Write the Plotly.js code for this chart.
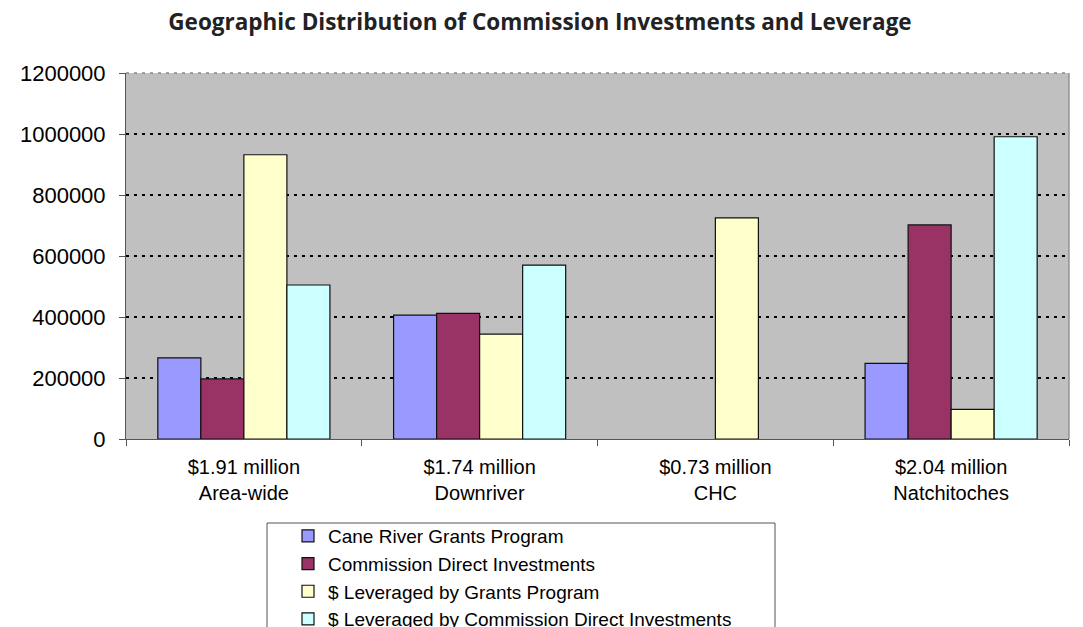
<!DOCTYPE html>
<html>
<head>
<meta charset="utf-8">
<script src="https://cdn.plot.ly/plotly-3.0.1.min.js"></script>
<style>html,body{margin:0;padding:0;background:#fff;}#chart{width:1083px;height:627px;}</style>
</head>
<body>
<div id="chart"></div>
<script>
var categories = ["$1.91 million<br>Area-wide", "$1.74 million<br>Downriver", "$0.73 million<br>CHC", "$2.04 million<br>Natchitoches"];
var seriesNames = ["Cane River Grants Program", "Commission Direct Investments", "$ Leveraged by Grants Program", "$ Leveraged by Commission Direct Investments"];
var grantsProgram = [266000, 406000, null, 248000];
var directInvestments = [197000, 412000, null, 702000];
var leveragedGrants = [932000, 344000, 725000, 97000];
var leveragedDirect = [505000, 570000, null, 991000];
var yTicks = [0, 200000, 400000, 600000, 800000, 1000000, 1200000];
var colors = ["#9999FF", "#993366", "#FFFFCC", "#CCFFFF"];

var allSeries = [grantsProgram, directInvestments, leveragedGrants, leveragedDirect];
var traces = allSeries.map(function (vals, i) {
  return {
    type: "bar",
    name: seriesNames[i],
    x: categories,
    y: vals,
    marker: {color: colors[i], line: {color: "#111", width: 1.2}},
    hoverinfo: "y"
  };
});

var layout = {
  width: 1083,
  height: 627,
  margin: {l: 126, r: 14, t: 73, b: 188, autoexpand: false},
  paper_bgcolor: "#fff",
  plot_bgcolor: "#C0C0C0",
  font: {family: "Liberation Sans, Arial, sans-serif", size: 21, color: "#000"},
  title: {
    text: "<b>Geographic Distribution of Commission Investments and Leverage</b>",
    font: {family: "Open Sans, sans-serif", size: 22.5, color: "#222"},
    xref: "container", x: 0.4986, xanchor: "center",
    yref: "container", y: 1 - 22 / 627, yanchor: "middle"
  },
  barmode: "group",
  bargap: 0.27,
  bargroupgap: 0,
  showlegend: true,
  legend: {
    xref: "paper", x: (288 - 126) / 943, xanchor: "left",
    yref: "paper", y: (439 - 517) / 366, yanchor: "top",
    bgcolor: "rgba(0,0,0,0)",
    borderwidth: 0,
    font: {family: "Liberation Sans, Arial, sans-serif", size: 19, color: "#000"},
    traceorder: "normal"
  },
  xaxis: {
    type: "category",
    tickson: "boundaries",
    ticks: "outside",
    ticklen: 6,
    tickcolor: "#555",
    tickangle: 0,
    ticklabelstandoff: 10,
    showline: true,
    linecolor: "#555",
    linewidth: 1,
    showgrid: false,
    tickfont: {size: 20},
    automargin: false
  },
  yaxis: {
    range: [0, 1200000],
    tickvals: yTicks,
    ticktext: yTicks.map(String),
    ticks: "outside",
    ticklen: 6,
    tickcolor: "#555",
    ticklabelstandoff: 9,
    showline: true,
    linecolor: "#555",
    linewidth: 1,
    showgrid: true,
    gridcolor: "#000",
    griddash: "3px,5px",
    gridwidth: 1.3,
    zeroline: false,
    tickfont: {size: 22},
    automargin: false
  },
  shapes: [
    {type: "line", xref: "paper", yref: "paper", x0: 1, x1: 1, y0: 0, y1: 1,
     line: {color: "#888", width: 1.3}, layer: "above"},
    {type: "line", xref: "paper", yref: "paper", x0: 0, x1: 1, y0: 1, y1: 1,
     line: {color: "#888", width: 1.6, dash: "3px,5px"}, layer: "above"},
    {type: "rect", xref: "paper", yref: "paper", x0: (267 - 126) / 943, x1: (775 - 126) / 943,
     y0: (439 - 640) / 366, y1: (439 - 523) / 366,
     line: {color: "#555", width: 1}, fillcolor: "rgba(0,0,0,0)"}
  ]
};

Plotly.newPlot("chart", traces, layout, {displayModeBar: false, staticPlot: true});
</script>
</body>
</html>
